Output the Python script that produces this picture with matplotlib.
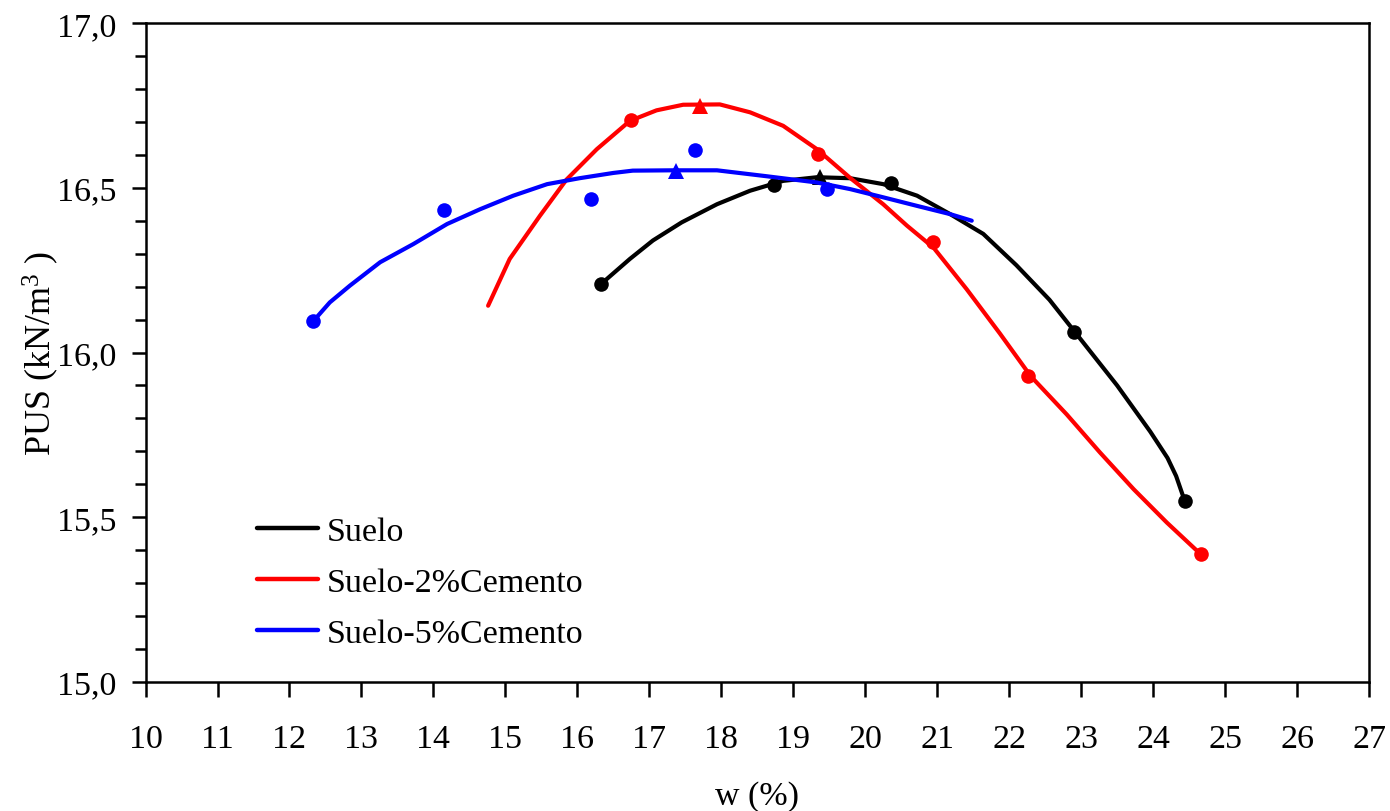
import matplotlib
matplotlib.use("Agg")
import matplotlib.pyplot as plt
from matplotlib.ticker import MultipleLocator, FixedLocator

plt.rcParams['font.family'] = ['Liberation Serif', 'DejaVu Serif']
plt.rcParams['mathtext.fontset'] = 'custom'
plt.rcParams['mathtext.rm'] = 'Liberation Serif'
plt.rcParams['mathtext.it'] = 'Liberation Serif'

# ---- measured points ----
suelo_w = [16.33, 18.73, 20.36, 22.90, 24.44]
suelo_pus = [16.208, 16.508, 16.514, 16.062, 15.549]
suelo_opt_w = [19.37]
suelo_opt_pus = [16.532]

c2_w = [16.74, 19.35, 20.94, 22.26, 24.66]
c2_pus = [16.706, 16.602, 16.335, 15.928, 15.388]
c2_opt_w = [17.71]
c2_opt_pus = [16.748]

c5_w = [12.33, 14.15, 16.19, 17.63, 19.47]
c5_pus = [16.095, 16.432, 16.466, 16.614, 16.496]
c5_opt_w = [17.37]
c5_opt_pus = [16.552]

# ---- fitted curves ----
suelo_curve_w = [16.33, 16.73, 17.05, 17.45, 17.94, 18.40, 18.86, 19.33, 19.79,
                 20.25, 20.72, 21.18, 21.64, 22.10, 22.56, 23.03, 23.50, 23.96, 24.20, 24.32, 24.44]
suelo_curve_pus = [16.208, 16.284, 16.340, 16.395, 16.450, 16.491, 16.521, 16.532, 16.529,
                   16.511, 16.476, 16.420, 16.360, 16.265, 16.160, 16.030, 15.900, 15.760, 15.680,
                   15.625, 15.549]

c2_curve_w = [14.76, 15.06, 15.48, 15.85, 16.27, 16.73, 17.10, 17.47, 17.98, 18.40,
              18.86, 19.33, 19.79, 20.25, 20.58, 20.95, 21.41, 21.87, 22.30, 22.80,
              23.26, 23.73, 24.19, 24.66]
c2_curve_pus = [16.142, 16.284, 16.415, 16.525, 16.617, 16.703, 16.735, 16.752, 16.753, 16.729,
                16.688, 16.617, 16.530, 16.450, 16.385, 16.318, 16.192, 16.058, 15.928, 15.812,
                15.697, 15.585, 15.484, 15.388]

c5_curve_w = [12.33, 12.56, 12.84, 13.26, 13.72, 14.19, 14.65, 15.11, 15.58, 16.03,
              16.50, 16.77, 17.33, 17.94, 18.63, 19.33, 19.79, 20.25, 20.72, 21.18, 21.48]
c5_curve_pus = [16.095, 16.152, 16.203, 16.274, 16.329, 16.390, 16.435, 16.476, 16.511, 16.529,
                16.545, 16.552, 16.553, 16.553, 16.535, 16.516, 16.496, 16.471, 16.445, 16.420, 16.400]

labels = ["Suelo", "Suelo-2%Cemento", "Suelo-5%Cemento"]
colors = ["#000000", "#ff0000", "#0000ff"]

x_ticks = list(range(10, 28))
y_ticks = [15.0, 15.5, 16.0, 16.5, 17.0]
y_tick_labels = ["15,0", "15,5", "16,0", "16,5", "17,0"]

fig = plt.figure(figsize=(13.9, 8.12), dpi=100)
ax = fig.add_axes([0.1047, 0.1589, 0.8802, 0.8115])

curves = [(suelo_curve_w, suelo_curve_pus), (c2_curve_w, c2_curve_pus), (c5_curve_w, c5_curve_pus)]
pts = [(suelo_w, suelo_pus), (c2_w, c2_pus), (c5_w, c5_pus)]
opts = [(suelo_opt_w, suelo_opt_pus), (c2_opt_w, c2_opt_pus), (c5_opt_w, c5_opt_pus)]

for (cw, cp), (pw, pp), (ow, op), lab, col in zip(curves, pts, opts, labels, colors):
    ax.plot(cw, cp, color=col, lw=3.0, label=lab, solid_capstyle='round', solid_joinstyle='round')
    ax.plot(pw, pp, 'o', color=col, ms=10.5, mew=0)
    ax.plot(ow, op, '^', color=col, ms=11, mew=0)

ax.set_xlim(10, 27)
ax.set_ylim(15.0, 17.0)
ax.xaxis.set_major_locator(FixedLocator(x_ticks))
ax.set_xticklabels([str(t) for t in x_ticks])
ax.yaxis.set_major_locator(FixedLocator(y_ticks))
ax.set_yticklabels(y_tick_labels)
ax.yaxis.set_minor_locator(MultipleLocator(0.1))

for s in ax.spines.values():
    s.set_linewidth(1.8)
ax.tick_params(axis='both', which='major', direction='out', length=10, width=1.8,
               labelsize=24.5, top=False, right=False)
ax.tick_params(axis='x', which='major', pad=19, length=11)
ax.tick_params(axis='y', which='major', pad=11)
ax.tick_params(axis='y', which='minor', direction='out', length=8, width=1.8, right=False)
ax.tick_params(axis='x', which='minor', bottom=False)

ax.set_xlabel("w (%)", fontsize=24.5, labelpad=19)
ax.set_ylabel("PUS (kN/m$^{3}$ )", fontsize=26, labelpad=-3)

leg = ax.legend(loc='upper left', bbox_to_anchor=(0.091, 0.252), frameon=False,
                fontsize=24.5, handlelength=1.8, handletextpad=0.25, labelspacing=0.6,
                borderaxespad=0, borderpad=0)
for h in leg.get_lines():
    h.set_linewidth(3.2)

fig.savefig("out.png", dpi=100)
